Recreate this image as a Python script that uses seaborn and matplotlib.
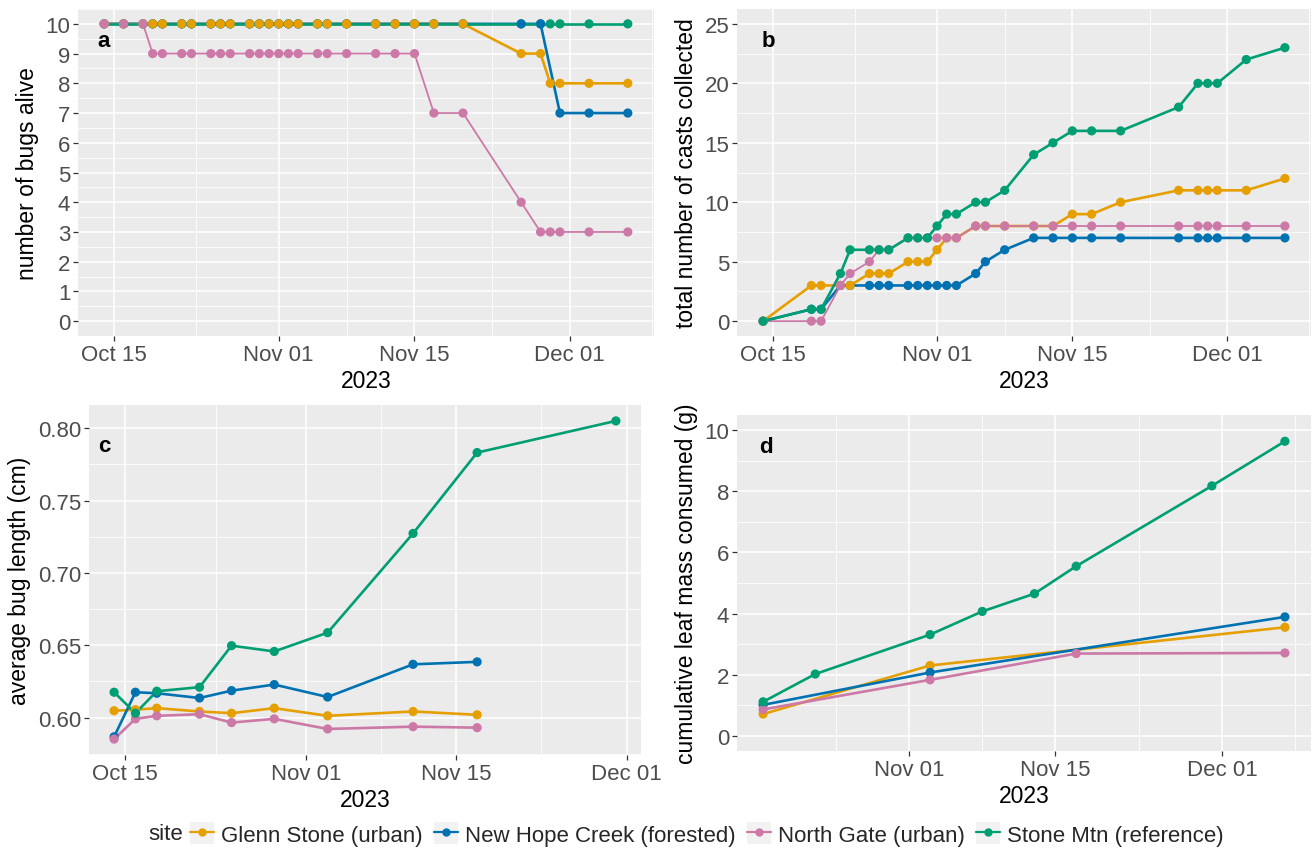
import numpy as np
import pandas as pd
import matplotlib
matplotlib.use("Agg")
import matplotlib.pyplot as plt
from matplotlib.lines import Line2D
from matplotlib.patches import Rectangle
from matplotlib.legend_handler import HandlerTuple
import seaborn as sns

# ---------------------------------------------------------------- data
SITES = ["Glenn Stone (urban)", "New Hope Creek (forested)",
         "North Gate (urban)", "Stone Mtn (reference)"]
COLORS = ["#E69F00", "#0072B2", "#CC79A7", "#009E73"]

# (a) number of bugs alive
ALIVE_DATES = ["2023-10-14", "2023-10-16", "2023-10-18", "2023-10-19", "2023-10-20",
               "2023-10-22", "2023-10-23", "2023-10-25", "2023-10-26", "2023-10-27",
               "2023-10-29", "2023-10-30", "2023-10-31", "2023-11-01", "2023-11-02",
               "2023-11-03", "2023-11-05", "2023-11-06", "2023-11-08", "2023-11-11",
               "2023-11-13", "2023-11-15", "2023-11-17", "2023-11-20", "2023-11-26",
               "2023-11-28", "2023-11-29", "2023-11-30", "2023-12-03", "2023-12-07"]
ALIVE_GLENN = [10] * 24 + [9, 9, 8, 8, 8, 8]
ALIVE_NEWHOPE = [10] * 26 + [np.nan, 7, 7, 7]
ALIVE_NORTHGATE = [10, 10, 10] + [9] * 19 + [7, 7, 4, 3, 3, 3, 3, 3]
ALIVE_STONEMTN = [10] * 30

# (b) total number of casts collected
CAST_DATES = ["2023-10-14", "2023-10-19", "2023-10-20", "2023-10-22", "2023-10-23",
              "2023-10-25", "2023-10-26", "2023-10-27", "2023-10-29", "2023-10-30",
              "2023-10-31", "2023-11-01", "2023-11-02", "2023-11-03", "2023-11-05",
              "2023-11-06", "2023-11-08", "2023-11-11", "2023-11-13", "2023-11-15",
              "2023-11-17", "2023-11-20", "2023-11-26", "2023-11-28", "2023-11-29",
              "2023-11-30", "2023-12-03", "2023-12-07"]
CAST_GLENN = [0, 3, 3, 3, 3, 4, 4, 4, 5, 5, 5, 6, 7, 7, 8, 8, 8, 8, 8, 9, 9, 10,
              11, 11, 11, 11, 11, 12]
CAST_NEWHOPE = [0, 1, 1, 3, 3, 3, 3, 3, 3, 3, 3, 3, 3, 3, 4, 5, 6, 7, 7, 7, 7, 7,
                7, 7, 7, 7, 7, 7]
CAST_NORTHGATE = [0, 0, 0, 3, 4, 5, 6, 6, 7, 7, 7, 7, 7, 7, 8, 8, 8, 8, 8, 8, 8, 8,
                  8, 8, 8, 8, 8, 8]
CAST_STONEMTN = [0, 1, 1, 4, 6, 6, 6, 6, 7, 7, 7, 8, 9, 9, 10, 10, 11, 14, 15, 16,
                 16, 16, 18, 20, 20, 20, 22, 23]

# (c) average bug length (cm)
LENGTH_DATES = ["2023-10-14", "2023-10-16", "2023-10-18", "2023-10-22", "2023-10-25",
                "2023-10-29", "2023-11-03", "2023-11-11", "2023-11-17", "2023-11-30"]
LENGTH_GLENN = [0.6047, 0.6054, 0.6065, 0.6042, 0.6030, 0.6065, 0.6012, 0.6042, 0.6019, np.nan]
LENGTH_NEWHOPE = [0.5867, 0.6175, 0.6168, 0.6135, 0.6186, 0.6228, 0.6142, 0.6368, 0.6385, np.nan]
LENGTH_NORTHGATE = [0.5851, 0.5991, 0.6012, 0.6023, 0.5965, 0.5991, 0.5921, 0.5937, 0.5930, np.nan]
LENGTH_STONEMTN = [0.6175, 0.6030, 0.6182, 0.6210, 0.6497, 0.6457, 0.6587, 0.7273, 0.7832, 0.8051]

# (d) cumulative leaf mass consumed (g)
LEAF_DATES = ["2023-10-18", "2023-10-23", "2023-11-03", "2023-11-08", "2023-11-13",
              "2023-11-17", "2023-11-30", "2023-12-07"]
LEAF_GLENN = [0.71, np.nan, 2.30, np.nan, np.nan, np.nan, np.nan, 3.55]
LEAF_NEWHOPE = [1.01, np.nan, 2.07, np.nan, np.nan, np.nan, np.nan, 3.89]
LEAF_NORTHGATE = [0.86, np.nan, 1.83, np.nan, np.nan, 2.69, np.nan, 2.71]
LEAF_STONEMTN = [1.11, 2.02, 3.31, 4.07, 4.65, 5.55, 8.18, 9.64]

DATE_BREAKS = ["2023-10-15", "2023-11-01", "2023-11-15", "2023-12-01"]


def long_frame(dates, *series):
    frames = []
    for site, vals in zip(SITES, series):
        frames.append(pd.DataFrame({"date": pd.to_datetime(dates),
                                    "value": vals, "site": site}))
    return pd.concat(frames).dropna()


# ---------------------------------------------------------------- style
sns.set_theme(style="darkgrid", rc={
    "axes.facecolor": "#EBEBEB",
    "grid.color": "white",
})
plt.rcParams["font.family"] = ["Liberation Sans", "DejaVu Sans"]

TICK_COLOR = "#4D4D4D"
palette = dict(zip(SITES, COLORS))


def padded(lo, hi, frac=0.05):
    span = hi - lo
    return lo - span * frac, hi + span * frac


def minor_between(majors, lo, hi):
    b = [m for m in majors if lo <= m <= hi]
    step = b[1] - b[0]
    if lo < b[0]:
        b = [b[0] - step] + b
    if hi > b[-1]:
        b = b + [b[-1] + step]
    mids = [b[i] + (b[i + 1] - b[i]) / 2 for i in range(len(b) - 1)]
    return [m for m in mids if lo <= m <= hi]


def draw_panel(ax, df, ylabel, ylim, yticks, letter, point_order, thin=None,
               letter_x=0.045, letter_y=0.905):
    for site in SITES:
        sub = df[df["site"] == site]
        lw = 1.3 if site == thin else 1.9
        sns.lineplot(data=sub, x="date", y="value", color=palette[site],
                     linewidth=lw, estimator=None, sort=True, ax=ax,
                     legend=False, zorder=2)
    for site in point_order:
        sub = df[df["site"] == site]
        sns.scatterplot(data=sub, x="date", y="value", color=palette[site],
                        s=44, edgecolor="none", linewidth=0, ax=ax,
                        legend=False, zorder=3)

    # x axis: dates padded 5 % each side
    dmin = df["date"].min()
    dmax = df["date"].max()
    span = dmax - dmin
    xlo, xhi = dmin - span * 0.05, dmax + span * 0.05
    ax.set_xlim(xlo, xhi)
    majors = [pd.Timestamp(d) for d in DATE_BREAKS]
    inside = [m for m in majors if xlo <= m <= xhi]
    ax.set_xticks(inside)
    ax.set_xticklabels([m.strftime("%b %d") for m in inside])
    ax.set_xticks(minor_between(majors, xlo, xhi), minor=True)

    # y axis
    ax.set_ylim(*ylim)
    ax.set_yticks(yticks)
    step = yticks[1] - yticks[0]
    ymin = [t + step / 2 for t in [yticks[0] - step] + list(yticks)]
    ax.set_yticks([m for m in ymin if ylim[0] <= m <= ylim[1]], minor=True)

    ax.grid(which="major", color="white", linewidth=1.15)
    ax.grid(which="minor", color="white", linewidth=0.55)
    ax.set_axisbelow(True)
    for sp in ax.spines.values():
        sp.set_visible(False)
    ax.tick_params(which="major", length=3.5, width=0.9, color="#333333",
                   labelcolor=TICK_COLOR, labelsize=16, pad=2,
                   bottom=True, left=True)
    ax.tick_params(which="minor", length=0)
    ax.set_ylabel(ylabel, fontsize=16.5, color="black", labelpad=5)
    ax.set_xlabel("2023", fontsize=16.5, color="black", labelpad=3)
    ax.text(letter_x, letter_y, letter, transform=ax.transAxes, fontsize=16,
            fontweight="bold", ha="center", va="center", color="black")


W, H = 1315, 853
fig = plt.figure(figsize=(W / 100, H / 100), dpi=100)


def frame(left, top, right, bottom):
    return fig.add_axes([left / W, 1 - bottom / H, (right - left) / W, (bottom - top) / H])


ax_a = frame(78, 10, 654, 337)
ax_b = frame(737, 10, 1311, 337)
ax_c = frame(89, 406, 641, 756)
ax_d = frame(737, 416, 1311, 752)

alive = long_frame(ALIVE_DATES, ALIVE_GLENN, ALIVE_NEWHOPE, ALIVE_NORTHGATE, ALIVE_STONEMTN)
draw_panel(ax_a, alive, "number of bugs alive", (-0.5, 10.5), np.arange(0, 11, 1), "a",
           [SITES[3], SITES[1], SITES[0], SITES[2]], thin=SITES[2])

casts = long_frame(CAST_DATES, CAST_GLENN, CAST_NEWHOPE, CAST_NORTHGATE, CAST_STONEMTN)
draw_panel(ax_b, casts, "total number of casts collected", (-1.25, 26.25),
           np.arange(0, 26, 5), "b",
           [SITES[1], SITES[0], SITES[2], SITES[3]], thin=SITES[2], letter_x=0.055)

length = long_frame(LENGTH_DATES, LENGTH_GLENN, LENGTH_NEWHOPE, LENGTH_NORTHGATE, LENGTH_STONEMTN)
lmin, lmax = length["value"].min(), length["value"].max()
draw_panel(ax_c, length, "average bug length (cm)", padded(lmin, lmax),
           np.round(np.arange(0.60, 0.801, 0.05), 2), "c",
           [SITES[0], SITES[1], SITES[2], SITES[3]], letter_x=0.027, letter_y=0.885)
ax_c.set_yticklabels([f"{t:.2f}" for t in np.arange(0.60, 0.801, 0.05)])

leaf = long_frame(LEAF_DATES, LEAF_GLENN, LEAF_NEWHOPE, LEAF_NORTHGATE, LEAF_STONEMTN)
draw_panel(ax_d, leaf, "cumulative leaf mass consumed (g)", (-0.5, 10.5),
           np.arange(0, 11, 2), "d",
           [SITES[0], SITES[1], SITES[2], SITES[3]], letter_x=0.05)

# shared legend along the bottom, keys on light grey tiles
handles = [(Rectangle((0, 0), 1, 1, facecolor="#F2F2F2", edgecolor="none"),
            Line2D([], [], color=c, marker="o", markersize=5, linewidth=1.6))
           for c in COLORS]
fig.text(148 / W, 1 - 835 / H, "site", fontsize=16, va="center", ha="left")
fig.legend(handles, SITES, loc="center left", bbox_to_anchor=(190 / W, 1 - 835 / H),
           ncol=4, frameon=False, fontsize=16, handlelength=1.1, handleheight=1.1,
           handletextpad=0.3, columnspacing=0.5, borderaxespad=0, borderpad=0,
           handler_map={tuple: HandlerTuple(ndivide=1, pad=0)})

fig.savefig("out.png", dpi=100, facecolor="white")
